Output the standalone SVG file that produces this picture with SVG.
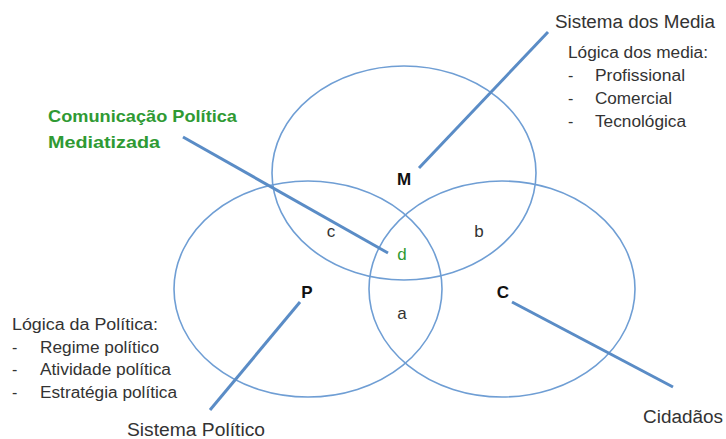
<svg xmlns="http://www.w3.org/2000/svg" width="726" height="439" viewBox="0 0 726 439">
<style>
.ring{fill:none;stroke:#6f9ed4;stroke-width:1.6}
.con{stroke:#5a8cc6;stroke-width:3;stroke-linecap:butt;fill:none}
.t{font-family:"Liberation Sans",Arial,sans-serif;fill:#333;font-size:16px}
.big{font-size:18px}
.lbl{font-family:"Liberation Sans",Arial,sans-serif;font-weight:bold;fill:#111;font-size:17px;text-anchor:middle}
.reg{font-family:"Liberation Sans",Arial,sans-serif;fill:#333;font-size:17px;text-anchor:middle}
.green{fill:#2f9a33}
.gb{font-family:"Liberation Sans",Arial,sans-serif;font-weight:bold;fill:#2f9a33;font-size:17px}
</style>
<rect width="726" height="439" fill="#fff"/>
<g id="M">
<ellipse class="ring" cx="404" cy="173" rx="132" ry="107"/>
<text class="lbl" x="404" y="185">M</text>
</g>
<g id="P">
<ellipse class="ring" cx="308" cy="289" rx="134" ry="108"/>
<text class="lbl" x="307" y="298">P</text>
</g>
<g id="C">
<ellipse class="ring" cx="502" cy="289" rx="133" ry="108"/>
<text class="lbl" x="503" y="298">C</text>
</g>
<g id="regions">
<text class="reg" x="331" y="237">c</text>
<text class="reg" x="479" y="237">b</text>
<text class="reg green" x="402" y="260">d</text>
<text class="reg" x="402" y="319">a</text>
</g>
<g id="connectors">
<line class="con" x1="548" y1="32" x2="419" y2="168"/>
<line class="con" x1="183" y1="137" x2="388" y2="253"/>
<line class="con" x1="300" y1="302" x2="210" y2="410"/>
<line class="con" x1="512" y1="302" x2="673" y2="387"/>
</g>
<g id="media-label">
<text class="t big" x="555" y="28" textLength="160" lengthAdjust="spacingAndGlyphs">Sistema dos Media</text>
<text class="t" x="568" y="58" textLength="140" lengthAdjust="spacingAndGlyphs">Lógica dos media:</text>
<text class="t" x="568" y="81">-</text>
<text class="t" x="595" y="81" textLength="90" lengthAdjust="spacingAndGlyphs">Profissional</text>
<text class="t" x="568" y="104">-</text>
<text class="t" x="595" y="104" textLength="77" lengthAdjust="spacingAndGlyphs">Comercial</text>
<text class="t" x="568" y="127">-</text>
<text class="t" x="595" y="127" textLength="91" lengthAdjust="spacingAndGlyphs">Tecnológica</text>
</g>
<g id="cpm-label">
<text class="gb" x="48" y="122" textLength="189" lengthAdjust="spacingAndGlyphs">Comunicação Política</text>
<text class="gb" x="48" y="148" textLength="112" lengthAdjust="spacingAndGlyphs">Mediatizada</text>
</g>
<g id="politica-label">
<text class="t" x="12" y="330" textLength="146" lengthAdjust="spacingAndGlyphs">Lógica da Política:</text>
<text class="t" x="12" y="353">-</text>
<text class="t" x="40" y="353" textLength="119" lengthAdjust="spacingAndGlyphs">Regime político</text>
<text class="t" x="12" y="375">-</text>
<text class="t" x="12" y="398">-</text>
<text class="t" x="40" y="375" textLength="131" lengthAdjust="spacingAndGlyphs">Atividade política</text>
<text class="t" x="40" y="398" textLength="137" lengthAdjust="spacingAndGlyphs">Estratégia política</text>
</g>
<g id="sistema-politico">
<text class="t big" x="127" y="436" textLength="138" lengthAdjust="spacingAndGlyphs">Sistema Político</text>
</g>
<g id="cidadaos">
<text class="t big" x="643" y="423" textLength="80" lengthAdjust="spacingAndGlyphs">Cidadãos</text>
</g>
</svg>
